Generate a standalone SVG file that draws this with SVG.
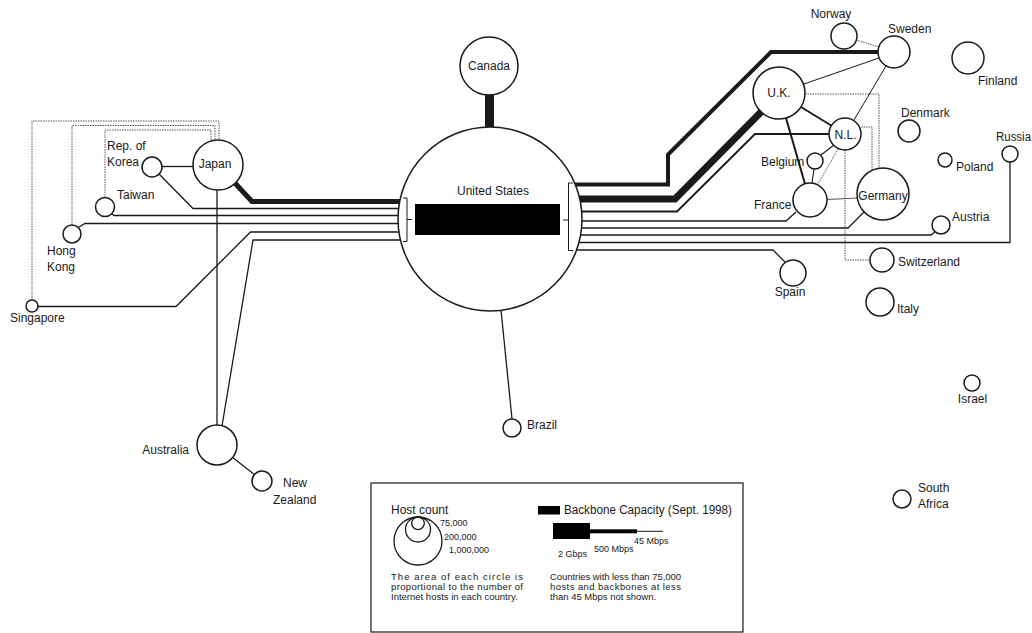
<svg xmlns="http://www.w3.org/2000/svg" width="1032" height="633" viewBox="0 0 1032 633">
<style>
.n{fill:#fff;stroke:#1a1a1a;stroke-width:1.5}
.l{fill:none;stroke:#1a1a1a;stroke-width:1.3;stroke-linejoin:miter}
.d{fill:none;stroke:#444;stroke-width:0.9;stroke-dasharray:1.5 1}
.t{font-family:"Liberation Sans",Arial,sans-serif;font-size:12px;fill:#1a1a1a}
.c{text-anchor:middle}
.s{font-family:"Liberation Sans",Arial,sans-serif;font-size:9px;fill:#1a1a1a}
.p{font-family:"Liberation Sans",Arial,sans-serif;font-size:9.5px;fill:#1a1a1a}
</style>
<rect width="1032" height="633" fill="#fff"/>
<g id="connectors">
<path class="l" d="M233,181 L252,201.5 H410" style="stroke-width:5"/>
<path class="l" d="M159,174 L193,208.5 H410"/>
<path class="l" d="M111,213 L114,215.5 H410"/>
<path class="l" d="M79,227 L85,223.5 H410"/>
<path class="l" d="M38,306.5 H176 L250.5,232 H410"/>
<path class="l" d="M222,426 L253,240 H410"/>
<path class="l" d="M217,189 V425"/>
<path class="l" d="M232,457 L255,475"/>
<path class="l" d="M162,166.5 H193"/>
<path class="d" d="M32,300 V121 H219 V141"/>
<path class="d" d="M72,225 V125.5 H215 V141"/>
<path class="d" d="M105,198 V130 H211 V141"/>
<path class="l" d="M489.5,94 V128" style="stroke-width:9"/>
<path class="l" d="M501,310 L512,419"/>
<path class="l" d="M570,184.5 H668 V154.5 L771,52 H879" style="stroke-width:4"/>
<path class="l" d="M570,199 H675 L768,105" style="stroke-width:7"/>
<path class="l" d="M570,211.5 H677 L755,134 H830" style="stroke-width:1.8"/>
<path class="l" d="M570,221 H786 L796,212"/>
<path class="l" d="M570,228 H848 L864,212"/>
<path class="l" d="M570,235 H931 L936,231"/>
<path class="l" d="M570,242.5 H1010 V161"/>
<path class="l" d="M570,250 H773 L785,262"/>
<path class="l" d="M804,84 L879,58" style="stroke-width:1"/>
<path class="l" d="M886,66 L854,120" style="stroke-width:1"/>
<path class="l" d="M801,107 L832,126" style="stroke-width:2"/>
<path class="l" d="M786,118 L805,184" style="stroke-width:2"/>
<path class="l" d="M834,145 L821,155" style="stroke-width:1.1"/>
<path class="l" d="M814,169 L812,183" style="stroke-width:1.1"/>
<path class="d" d="M838,149 L818,184"/>
<path class="l" d="M827,199.5 L857,198" style="stroke-width:0.9;stroke:#444"/>
<path class="d" d="M805,94 H879 V168"/>
<path class="d" d="M861,127 H872 V171"/>
<path class="d" d="M845,150 V260 H870"/>
<path class="d" d="M856,40 L879,47"/>
</g>
<g id="united-states">
<circle class="n" cx="490" cy="219" r="92"/>
<rect x="415" y="204" width="145" height="31" fill="#000"/>
<path class="l" style="stroke-width:1" d="M403,198 H407 V241.5 H403 M407,219.5 H412"/>
<path class="l" style="stroke-width:1" d="M573,183 H568.5 V250.5 H573 M568.5,220 H563"/>
<text class="t c" x="493" y="195">United States</text>
</g>
<g id="canada"><circle class="n" cx="489" cy="66" r="29"/><text class="t c" x="489" y="70">Canada</text></g>
<g id="japan"><circle class="n" cx="218" cy="165" r="25"/><text class="t c" x="215" y="168">Japan</text></g>
<g id="korea"><circle class="n" cx="152" cy="167" r="10"/><text class="t" x="107" y="150">Rep. of</text><text class="t" x="107" y="166">Korea</text></g>
<g id="taiwan"><circle class="n" cx="105" cy="207" r="9.5"/><text class="t" x="117" y="199">Taiwan</text></g>
<g id="hong-kong"><circle class="n" cx="72" cy="234" r="9"/><text class="t" x="47" y="255">Hong</text><text class="t" x="47" y="271">Kong</text></g>
<g id="singapore"><circle class="n" cx="32" cy="306" r="6"/><text class="t" x="10" y="322">Singapore</text></g>
<g id="australia"><circle class="n" cx="217" cy="445" r="20"/><text class="t" x="189" y="454" text-anchor="end">Australia</text></g>
<g id="new-zealand"><circle class="n" cx="262" cy="481" r="10"/><text class="t" x="283" y="487">New</text><text class="t" x="273" y="504">Zealand</text></g>
<g id="brazil"><circle class="n" cx="512" cy="428" r="9"/><text class="t" x="527" y="429">Brazil</text></g>
<g id="norway"><circle class="n" cx="844" cy="36" r="13"/><text class="t c" x="831" y="18">Norway</text></g>
<g id="sweden"><circle class="n" cx="894" cy="52" r="16"/><text class="t" x="888" y="33">Sweden</text></g>
<g id="finland"><circle class="n" cx="968" cy="58" r="16"/><text class="t" x="978" y="85">Finland</text></g>
<g id="uk"><circle class="n" cx="779" cy="93" r="26"/><text class="t c" x="779" y="97">U.K.</text></g>
<g id="netherlands"><circle class="n" cx="845" cy="134" r="16"/><text class="t c" x="845.5" y="139">N.L.</text></g>
<g id="belgium"><circle class="n" cx="815" cy="161" r="8"/><text class="t" x="761" y="166">Belgium</text></g>
<g id="france"><circle class="n" cx="810" cy="200" r="17"/><text class="t" x="754" y="209">France</text></g>
<g id="germany"><circle class="n" cx="883" cy="194" r="26"/><text class="t c" x="883" y="199.5">Germany</text></g>
<g id="denmark"><circle class="n" cx="909" cy="131" r="11"/><text class="t" x="901" y="117">Denmark</text></g>
<g id="poland"><circle class="n" cx="945" cy="160" r="7"/><text class="t" x="956" y="170.5">Poland</text></g>
<g id="russia"><circle class="n" cx="1010" cy="154" r="8"/><text class="t" x="996" y="140.5" textLength="35" lengthAdjust="spacingAndGlyphs">Russia</text></g>
<g id="austria"><circle class="n" cx="941" cy="225" r="9"/><text class="t" x="952" y="221">Austria</text></g>
<g id="switzerland"><circle class="n" cx="882" cy="260" r="12"/><text class="t" x="898" y="266">Switzerland</text></g>
<g id="italy"><circle class="n" cx="880" cy="302" r="14"/><text class="t" x="897" y="313">Italy</text></g>
<g id="spain"><circle class="n" cx="793" cy="273" r="13"/><text class="t c" x="790" y="296">Spain</text></g>
<g id="israel"><circle class="n" cx="972" cy="383" r="8"/><text class="t c" x="972.5" y="402.5">Israel</text></g>
<g id="south-africa"><circle class="n" cx="902" cy="499" r="9"/><text class="t" x="918" y="491.5">South</text><text class="t" x="918" y="508">Africa</text></g>
<g id="legend">
<rect x="371" y="483" width="372" height="149" fill="none" stroke="#1a1a1a" stroke-width="1.2"/>
<text class="t" x="391" y="514">Host count</text>
<circle cx="418" cy="541" r="24" fill="none" stroke="#1a1a1a" stroke-width="1.3"/>
<circle cx="418" cy="529.5" r="12.5" fill="none" stroke="#1a1a1a" stroke-width="1.3"/>
<circle cx="418" cy="523.3" r="6.3" fill="none" stroke="#1a1a1a" stroke-width="1.3"/>
<text class="s" x="440" y="526">75,000</text>
<text class="s" x="444" y="540">200,000</text>
<text class="s" x="449" y="553">1,000,000</text>
<text class="p" x="391" y="580" textLength="132" lengthAdjust="spacing">The area of each circle is</text>
<text class="p" x="391" y="590" textLength="132" lengthAdjust="spacing">proportional to the number of</text>
<text class="p" x="391" y="600">Internet hosts in each country.</text>
<rect x="538" y="506" width="22" height="8.5" fill="#000"/>
<text class="t" x="564" y="514" textLength="168" lengthAdjust="spacingAndGlyphs">Backbone Capacity (Sept. 1998)</text>
<rect x="553" y="523" width="37" height="16" fill="#000"/>
<rect x="589" y="529.3" width="48" height="4" fill="#000"/>
<path d="M636,531.3 H663" stroke="#1a1a1a" stroke-width="1"/>
<text class="s" x="558" y="557">2 Gbps</text>
<text class="s" x="594" y="551.5">500 Mbps</text>
<text class="s" x="634" y="544">45 Mbps</text>
<text class="p" x="550" y="580" textLength="131" lengthAdjust="spacing">Countries with less than 75,000</text>
<text class="p" x="550" y="590" textLength="131" lengthAdjust="spacing">hosts and backbones at less</text>
<text class="p" x="550" y="600">than 45 Mbps not shown.</text>
</g>
</svg>
